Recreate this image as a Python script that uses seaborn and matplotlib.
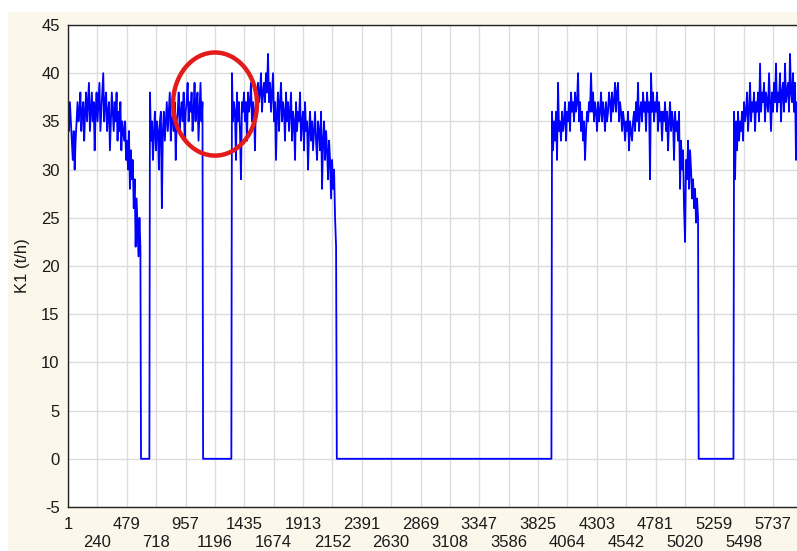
import numpy as np
import pandas as pd
import matplotlib
matplotlib.use("Agg")
import matplotlib.pyplot as plt
from matplotlib.patches import Ellipse
import seaborn as sns

# ---- data (sample index ranges and K1 values) ----
seg_a_range = (1, 590)
seg_a = [36, 34, 37, 35, 33, 31, 34, 30, 33, 35,
         37, 35, 36, 38, 34, 36, 37, 33, 36, 38,
         35, 37, 39, 34, 36, 38, 35, 37, 32, 36,
         38, 35, 37, 39, 34, 36, 38, 40, 35, 37,
         38, 34, 36, 37, 32, 35, 38, 36, 34, 37,
         35, 38, 33, 36, 34, 37, 32, 35, 34, 33,
         35, 31, 33, 30, 34, 28, 32, 29, 31, 26,
         29, 22, 27, 24, 21, 25, 22]

seg_b_range = (668, 1095)
seg_b = [38, 33, 35, 31, 34, 36, 32, 35, 34, 30,
         35, 36, 26, 34, 36, 33, 35, 37, 34, 36,
         38, 33, 35, 36, 34, 37, 31, 35, 36, 38,
         34, 36, 37, 35, 38, 33, 36, 37, 39, 35,
         37, 36, 38, 34, 36, 39, 35, 37, 38, 33,
         36, 39, 35, 37]

seg_c_range = (1335, 2182)
seg_c = [40, 35, 37, 36, 31, 38, 35, 37, 34, 29,
         37, 36, 38, 35, 37, 33, 38, 36, 37, 39,
         35, 37, 36, 32, 38, 36, 39, 37, 38, 40,
         36, 38, 39, 37, 40, 38, 42, 37, 39, 36,
         38, 40, 35, 37, 31, 36, 38, 34, 37, 39,
         35, 37, 36, 33, 38, 35, 37, 34, 36, 38,
         33, 36, 35, 31, 37, 34, 36, 35, 38, 33,
         35, 36, 32, 37, 34, 35, 30, 34, 36, 33,
         35, 32, 34, 36, 33, 31, 35, 34, 32, 36,
         28, 33, 35, 31, 34, 32, 29, 33, 31, 27,
         31, 28, 30, 25, 22]

seg_d_range = (3939, 5127)
seg_d = [36, 32, 35, 33, 36, 31, 39, 34, 35, 33,
         36, 34, 35, 37, 33, 36, 35, 37, 34, 38,
         36, 37, 35, 38, 36, 37, 40, 35, 37, 34,
         36, 33, 35, 31, 34, 36, 35, 37, 36, 40,
         36, 38, 35, 37, 36, 34, 37, 35, 36, 38,
         35, 37, 36, 34, 37, 35, 36, 38, 37, 35,
         38, 36, 37, 39, 36, 38, 39, 35, 37, 36,
         34, 36, 35, 33, 35, 34, 36, 32, 35, 34,
         33, 35, 36, 34, 37, 35, 39, 34, 36, 37,
         35, 38, 36, 37, 34, 38, 36, 37, 29, 40,
         36, 38, 35, 37, 36, 38, 34, 37, 35, 36,
         33, 36, 35, 37, 34, 36, 32, 35, 37, 34,
         36, 35, 31, 36, 34, 35, 33, 36, 28, 33,
         30, 32, 26, 22.5, 31, 29, 33, 28, 32, 30,
         27, 29, 26, 28, 24.5, 27, 25]

seg_e_range = (5420, 5932)
seg_e = [36, 29, 35, 32, 36, 33, 35, 34, 36, 33,
         37, 35, 36, 38, 34, 36, 39, 35, 37, 36,
         38, 34, 37, 36, 38, 35, 41, 36, 38, 37,
         39, 35, 38, 37, 36, 40, 37, 34, 38, 36,
         39, 37, 41, 36, 38, 37, 40, 35, 38, 39,
         36, 41, 37, 38, 39, 36, 42, 38, 37, 40,
         36, 39, 31, 37]

zero_runs = [(595, 663), (1100, 1330), (2188, 3934), (5132, 5415)]

x_ticks = [1, 240, 479, 718, 957, 1196, 1435, 1674, 1913, 2152, 2391, 2630, 2869, 3108,
           3347, 3586, 3825, 4064, 4303, 4542, 4781, 5020, 5259, 5498, 5737]
y_ticks = [-5, 0, 5, 10, 15, 20, 25, 30, 35, 40, 45]
y_label = "K1 (t/h)"

# ---- assemble series ----
segments = [(seg_a_range, seg_a), (seg_b_range, seg_b), (seg_c_range, seg_c),
            (seg_d_range, seg_d), (seg_e_range, seg_e)]
xs, ys = [], []
for i, ((s0, s1), vals) in enumerate(segments):
    xs.extend(np.linspace(s0, s1, len(vals)).tolist())
    ys.extend(vals)
    if i < len(zero_runs):
        z0, z1 = zero_runs[i]
        xs.extend([z0, z1])
        ys.extend([0, 0])
df = pd.DataFrame({"sample": xs, "K1": ys})

# ---- figure ----
sns.set_style("white")
plt.rcParams["font.family"] = ["Liberation Sans", "DejaVu Sans"]

W, H = 797, 551
fig = plt.figure(figsize=(W / 100, H / 100), dpi=100, facecolor="white")
bg = fig.add_axes([8 / W, 0, 1 - 8 / W, 1 - 12 / H], zorder=-10)
bg.set_facecolor("#FBF7EA")
bg.set_xticks([])
bg.set_yticks([])
for s in bg.spines.values():
    s.set_visible(False)

ax = fig.add_axes([68 / W, 1 - 507 / H, 1 - 68 / W, (507 - 25) / H], zorder=1)
ax.set_facecolor("white")

sns.lineplot(data=df, x="sample", y="K1", ax=ax, estimator=None, sort=False,
             color="#0000FF", linewidth=1.3)

ax.set_xlim(1, 5932)
ax.set_ylim(-5, 45)
major = x_ticks[0::2]
minor = x_ticks[1::2]
ax.set_xticks(major)
ax.set_xticklabels([str(t) for t in major])
ax.set_xticks(minor, minor=True)
ax.set_xticklabels([str(t) for t in minor], minor=True)
ax.set_yticks(y_ticks)
ax.set_yticklabels([str(t) for t in y_ticks])
ax.grid(True, which="both", axis="x", color="#DCDCDC", linewidth=1.0)
ax.grid(True, which="major", axis="y", color="#DCDCDC", linewidth=1.0)
ax.set_axisbelow(True)
ax.tick_params(axis="both", which="both", direction="in", length=4, width=0.8,
               colors="#222222", labelsize=12, labelcolor="#1a1a1a")
ax.tick_params(axis="x", which="major", pad=7.5)
ax.tick_params(axis="x", which="minor", pad=20.5)
ax.tick_params(axis="y", pad=6)
ax.set_xlabel("")
ax.set_ylabel(y_label, fontsize=12, color="#1a1a1a", labelpad=8)
for side in ["left", "bottom", "top"]:
    ax.spines[side].set_visible(True)
    ax.spines[side].set_color("#222222")
    ax.spines[side].set_linewidth(1.0)
ax.spines["right"].set_visible(False)

# red highlight circle
ax.add_patch(Ellipse((1197, 36.8), 683, 10.7, fill=False, edgecolor="#E31B1B",
                     linewidth=3.2, zorder=5))

fig.savefig("out.png", dpi=100, facecolor=fig.get_facecolor())
